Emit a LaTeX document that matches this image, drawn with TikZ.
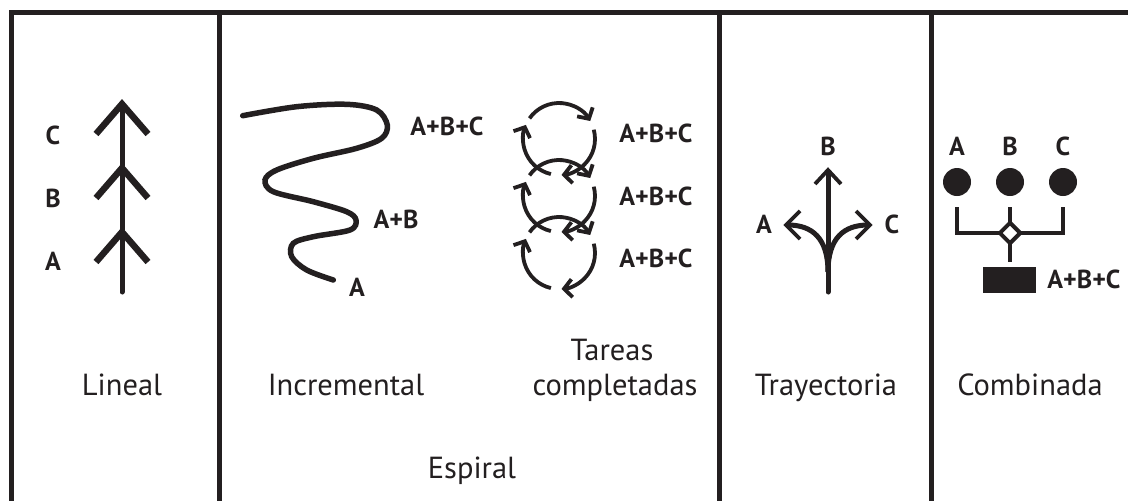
\documentclass[tikz,border=0pt]{standalone}
\usepackage{fontspec}
\setmainfont{PT Sans}
\usetikzlibrary{arrows.meta,calc,shapes.geometric}
\definecolor{ink}{HTML}{231F20}
\begin{document}
\begin{tikzpicture}[x=1pt,y=-1pt,
  frame/.style={draw=ink,line width=5pt,line join=miter},
  captext/.style={text=ink,font=\fontsize{30.5}{32}\selectfont,anchor=base,inner sep=0pt},
  lab/.style={text=ink,font=\bfseries\fontsize{26}{28}\selectfont,anchor=base,inner sep=0pt},
  chev/.style={draw=ink,line width=6.5pt,line cap=butt,line join=miter},
  thin chev/.style={draw=ink,line width=3.8pt,line cap=butt,line join=miter},
  stem/.style={draw=ink,line width=5pt,line cap=round},
  cyc/.style={draw=ink,line width=3.8pt,-{Straight Barb[length=8pt,width=18pt]}},
  dot/.style={circle,fill=ink,minimum size=28pt,inner sep=0pt}]
\useasboundingbox (0,0) rectangle (1128,501);
\fill[white] (0,0) rectangle (1128,501);
% frame
\draw[frame] (1128,12.5) -- (11,12.5) -- (11,501);
\draw[frame] (219.5,12.5) -- (219.5,501);
\draw[frame] (719,12.5) -- (719,501);
\draw[frame] (931,12.5) -- (931,501);

% ---------- Lineal
\draw[stem] (122,110) -- (122,292);
\foreach \y in {104,168,232}{\draw[chev] (96,\y+30) -- (122,\y) -- (148,\y+30);}
\node[lab] (lc) at (53,144) {C};
\node[lab] (lb) at (53,207) {B};
\node[lab] (la) at (53,270) {A};
\node[captext] (lineal) at (122,395) {Lineal};

% ---------- Incremental
\draw[draw=ink,line width=5.5pt,line cap=round] plot[smooth,tension=0.55] coordinates {
 (242.7,115.7) (296.7,106.7) (346.7,104.3) (376.7,110) (387.3,125) (381.7,138.3)
 (356.7,148.3) (313.3,158.3) (276.7,170) (265,180) (273.3,191.7) (313.3,201.7)
 (346.7,211.7) (356,220) (350,230) (313.3,236.7) (293.3,243.3) (291.7,256.7)
 (306.7,270) (333.3,280)};
\node[lab] (iabc) at (447,135) {A+B+C};
\node[lab] (iab) at (396,228) {A+B};
\node[lab] (ia) at (357,296) {A};
\node[captext] (incr) at (346,395) {Incremental};

% ---------- Tareas completadas
\foreach \cy [count=\i] in {139,196,253}{
  \coordinate (c\i) at (559,\cy);
  \draw[cyc] ($(c\i)+(-145:36)$) arc[start angle=-145,end angle=-30,radius=36];
  \draw[cyc] ($(c\i)+(-15:36)$) arc[start angle=-15,end angle=86,radius=36];
  \draw[cyc] ($(c\i)+(103:36)$) arc[start angle=103,end angle=203,radius=36];
}
\node[lab] (t1) at (656,142) {A+B+C};
\node[lab] (t2) at (656,205) {A+B+C};
\node[lab] (t3) at (656,267) {A+B+C};
\node[captext] (tareas) at (612,360) {Tareas};
\node[captext] (compl) at (615,395) {completadas};
\node[captext] (espiral) at (472,478) {Espiral};

% ---------- Trayectoria
\draw[stem] (828,292) -- (828,174);
\draw[thin chev] (815,184) -- (828,170) -- (841,184);
\draw[draw=ink,line width=5pt] (828,272) .. controls (828,238) and (812,225) .. (788,225);
\draw[draw=ink,line width=5pt] (828,272) .. controls (828,238) and (844,225) .. (868,225);
\draw[thin chev] (800,211) -- (786,225) -- (800,239);
\draw[thin chev] (856,211) -- (870,225) -- (856,239);
\node[lab] (tb) at (828,155) {B};
\node[lab] (ta) at (764,233) {A};
\node[lab] (tc) at (892,233) {C};
\node[captext] (tray) at (826,395) {Trayectoria};

% ---------- Combinada
\node[dot] (da) at (957,182) {};
\node[dot] (db) at (1010,182) {};
\node[dot] (dc) at (1063,182) {};
\draw[draw=ink,line width=4.5pt,line join=miter] (957,207) -- (957,233) -- (1063,233) -- (1063,207);
\draw[draw=ink,line width=4.5pt] (1010,207) -- (1010,262);
\node[diamond,draw=ink,fill=white,line width=4pt,minimum size=22pt,inner sep=0pt] (dm) at (1010,233) {};
\node[fill=ink,minimum width=53pt,minimum height=26pt,inner sep=0pt] (box) at (1009.5,280) {};
\node[lab] (ca) at (957,155) {A};
\node[lab] (cb) at (1010,155) {B};
\node[lab] (cc) at (1063,155) {C};
\node[lab] (cabc) at (1084,288) {A+B+C};
\node[captext] (comb) at (1030,395) {Combinada};
\end{tikzpicture}
\end{document}
